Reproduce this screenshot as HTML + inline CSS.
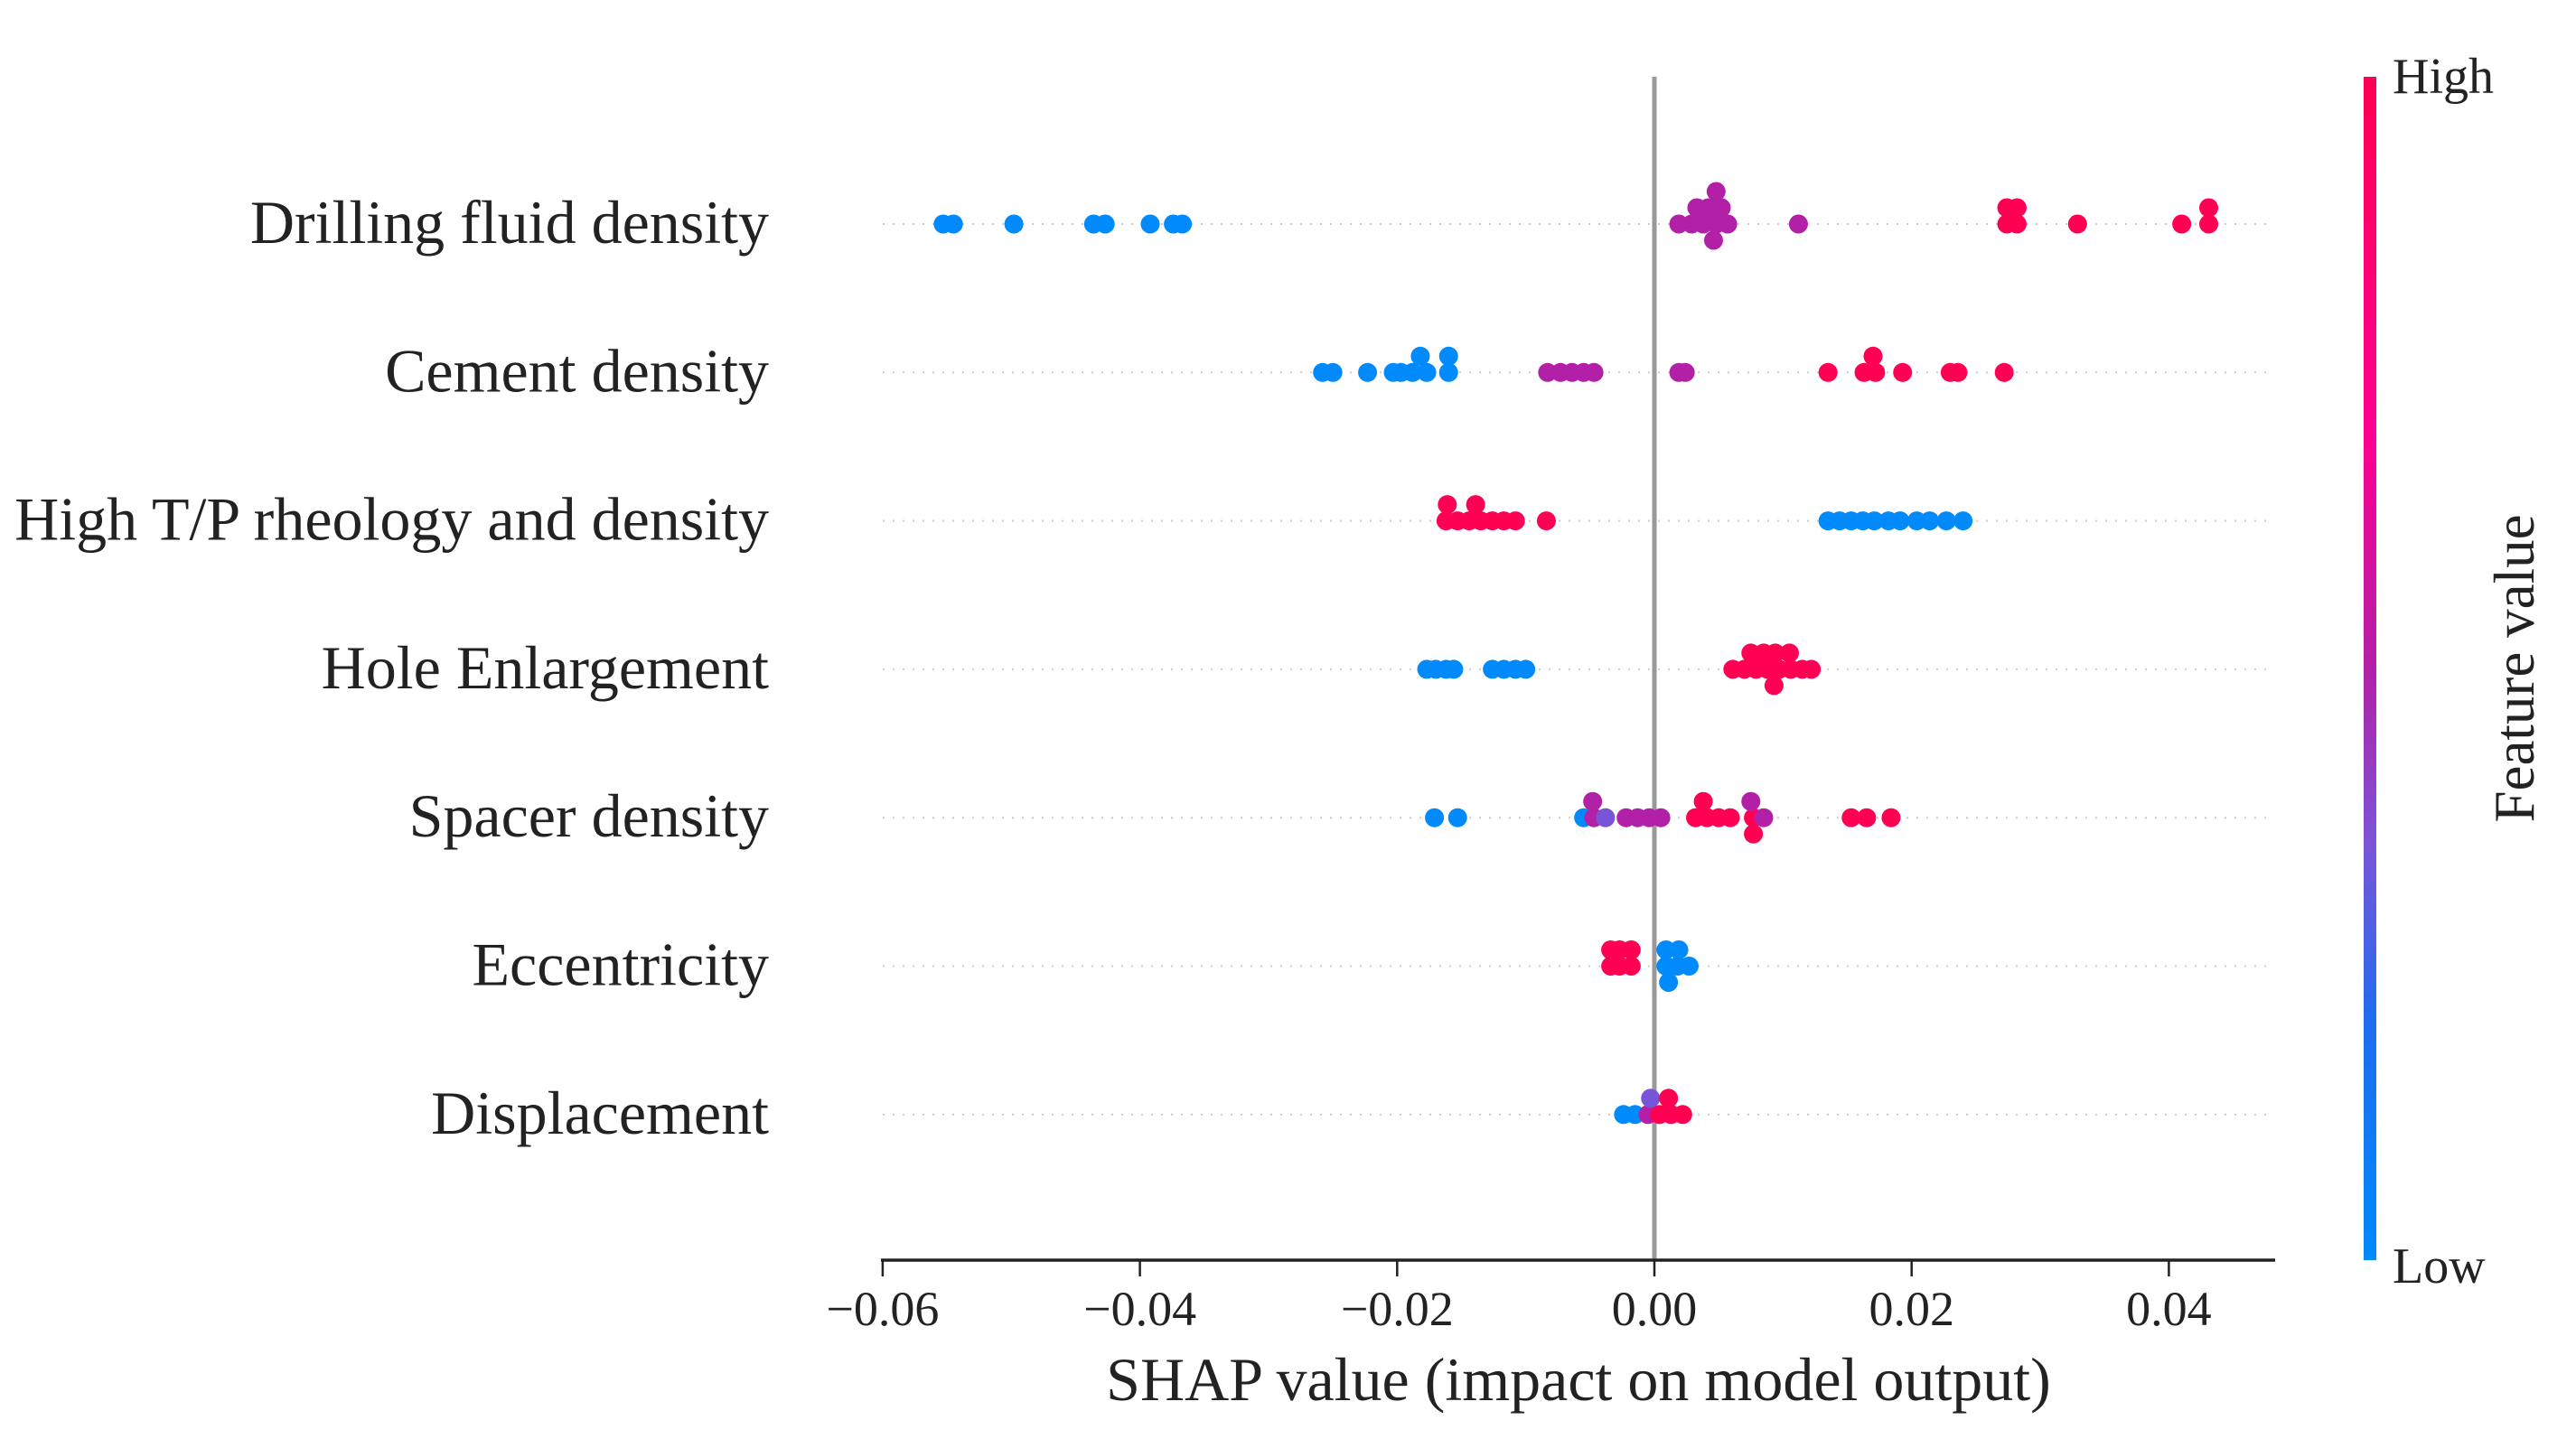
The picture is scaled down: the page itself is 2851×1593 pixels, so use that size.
<!DOCTYPE html>
<html><head><meta charset="utf-8"><style>
html,body{margin:0;padding:0;background:#fff}
svg{display:block}
text{font-family:"Liberation Serif",serif;fill:#222}
</style></head><body>
<svg id="chart" width="2851" height="1593" viewBox="0 0 2851 1593" xmlns="http://www.w3.org/2000/svg">
<defs>
<linearGradient id="cbg" x1="0" y1="1" x2="0" y2="0">
<stop offset="0" stop-color="#008afb"/><stop offset="0.2" stop-color="#1e6cf0"/>
<stop offset="0.35" stop-color="#7a55d8"/><stop offset="0.5" stop-color="#b320a8"/>
<stop offset="0.7" stop-color="#ff0090"/><stop offset="1" stop-color="#ff0052"/>
</linearGradient>
</defs>
<g id="grid"></g>
<line x1="1831" y1="85" x2="1831" y2="1395" stroke="#999" stroke-width="5"/>
<g id="dots"></g>
<g id="axis"></g>
<text x="1747" y="1550" font-size="68" text-anchor="middle">SHAP value (impact on model output)</text>
<rect x="2616" y="85" width="14" height="1310" fill="url(#cbg)"/>
<text x="2648" y="103" font-size="56">High</text>
<text x="2648" y="1420" font-size="56">Low</text>
<text x="0" y="0" font-size="63" text-anchor="middle" transform="translate(2804,740) rotate(-90)">Feature value</text>
</svg>
<script>
const features = ["Drilling fluid density","Cement density","High T/P rheology and density","Hole Enlargement","Spacer density","Eccentricity","Displacement"];
const tickValues = [-0.06,-0.04,-0.02,0.00,0.02,0.04];
const tickLabels = ["\u22120.06","\u22120.04","\u22120.02","0.00","0.02","0.04"];
// each point: [shap value, stack level, feature value 0..1]
const row0 = [[-0.0553,0,0],[-0.0545,0,0],[-0.0498,0,0],[-0.0436,0,0],[-0.0427,0,0],[-0.0392,0,0],[-0.0374,0,0],[-0.0367,0,0],
[0.0019,0,.55],[0.0029,0,.55],[0.0038,0,.55],[0.0048,0,.55],[0.0057,0,.55],[0.0033,1,.55],[0.0042,1,.55],[0.0052,1,.55],[0.0048,2,.55],[0.0046,-1,.55],[0.0112,0,.55],
[0.0274,0,1],[0.0282,0,1],[0.0274,1,1],[0.0282,1,1],[0.0329,0,1],[0.0410,0,1],[0.0431,0,1],[0.0431,1,1]];
const row1 = [[-0.0258,0,0],[-0.0250,0,0],[-0.0223,0,0],[-0.0203,0,0],[-0.0197,0,0],[-0.0188,0,0],[-0.0177,0,0],[-0.0160,0,0],[-0.0182,1,0],[-0.0160,1,0],
[-0.0083,0,.55],[-0.0073,0,.55],[-0.0064,0,.55],[-0.0055,0,.55],[-0.0047,0,.55],[0.0019,0,.55],[0.0024,0,.55],
[0.0135,0,1],[0.0163,0,1],[0.0172,0,1],[0.0193,0,1],[0.0230,0,1],[0.0236,0,1],[0.0272,0,1],[0.0170,1,1]];
const row2 = [[-0.0162,0,1],[-0.0153,0,1],[-0.0144,0,1],[-0.0135,0,1],[-0.0126,0,1],[-0.0117,0,1],[-0.0108,0,1],[-0.0084,0,1],[-0.0161,1,1],[-0.0139,1,1],
[0.0135,0,0],[0.0144,0,0],[0.0153,0,0],[0.0162,0,0],[0.0171,0,0],[0.0182,0,0],[0.0191,0,0],[0.0204,0,0],[0.0214,0,0],[0.0227,0,0],[0.0240,0,0]];
const row3 = [[-0.0177,0,0],[-0.0170,0,0],[-0.0162,0,0],[-0.0156,0,0],[-0.0126,0,0],[-0.0117,0,0],[-0.0108,0,0],[-0.0100,0,0],
[0.0061,0,1],[0.0070,0,1],[0.0079,0,1],[0.0088,0,1],[0.0097,0,1],[0.0106,0,1],[0.0115,0,1],[0.0122,0,1],[0.0075,1,1],[0.0085,1,1],[0.0094,1,1],[0.0105,1,1],[0.0093,-1,1]];
const row4 = [[-0.0171,0,0],[-0.0153,0,0],[-0.0055,0,0],[-0.0047,0,.55],[-0.0038,0,.3],[-0.0022,0,.55],[-0.0013,0,.55],[-0.0004,0,.55],[0.0005,0,.55],[-0.0048,1,.55],
[0.0032,0,1],[0.0041,0,1],[0.0050,0,1],[0.0059,0,1],[0.0077,0,1],[0.0085,0,.55],[0.0038,1,1],[0.0075,1,.55],[0.0077,-1,1],[0.0153,0,1],[0.0165,0,1],[0.0184,0,1]];
const row5 = [[-0.0034,0,1],[-0.0027,0,1],[-0.0018,0,1],[-0.0034,1,1],[-0.0027,1,1],[-0.0018,1,1],
[0.0009,0,0],[0.0018,0,0],[0.0027,0,0],[0.0009,1,0],[0.0019,1,0],[0.0011,-1,0]];
const row6 = [[-0.0024,0,0],[-0.0015,0,0],[-0.0005,0,.55],[0.0004,0,1],[0.0013,0,1],[0.0022,0,1],[-0.0003,1,.3],[0.0011,1,1]];
const rows = [row0,row1,row2,row3,row4,row5,row6];

const NS="http://www.w3.org/2000/svg";
const X0=1831, XS=14235, AX_Y=1395, ROW0=248, ROWSTEP=164.3, LEVEL=18;
function xScale(v){return X0+v*XS;}
function yRow(i){return ROW0+i*ROWSTEP;}
function color(f){
  const stops=[[0,[0,138,251]],[0.3,[120,85,216]],[0.55,[178,32,168]],[0.8,[255,0,130]],[1,[255,0,82]]];
  for(let i=1;i<stops.length;i++){if(f<=stops[i][0]){const a=stops[i-1],b=stops[i];const t=(f-a[0])/(b[0]-a[0]);
    const c=a[1].map((v,k)=>Math.round(v+(b[1][k]-v)*t));return `rgb(${c[0]},${c[1]},${c[2]})`;}}
  return "rgb(255,0,82)";
}
const svg=document.getElementById('chart');
const grid=document.getElementById('grid'), dots=document.getElementById('dots'), axis=document.getElementById('axis');
features.forEach((name,i)=>{
  const y=yRow(i);
  const gl=document.createElementNS(NS,'line');
  
  
  gl.setAttribute('x1',977);gl.setAttribute('x2',2510);gl.setAttribute('y1',y);gl.setAttribute('y2',y);
  gl.setAttribute('stroke','#ccc');gl.setAttribute('stroke-width','2');gl.setAttribute('stroke-dasharray','2 9');
  grid.appendChild(gl);
  const t=document.createElementNS(NS,'text');
  
  
  t.setAttribute('x',851);t.setAttribute('y',y+21);t.setAttribute('font-size','68');t.setAttribute('text-anchor','end');
  t.textContent=name;svg.appendChild(t);
  rows[i].forEach(p=>{
    const c=document.createElementNS(NS,'circle');
    
    
    c.setAttribute('cx',xScale(p[0]));c.setAttribute('cy',y-p[1]*LEVEL);c.setAttribute('r',10.5);
    c.setAttribute('fill',color(p[2]));
    dots.appendChild(c);
  });
});
const al=document.createElementNS(NS,'line');


al.setAttribute('x1',975);al.setAttribute('x2',2518);al.setAttribute('y1',AX_Y);al.setAttribute('y2',AX_Y);
al.setAttribute('stroke','#222');al.setAttribute('stroke-width','3.5');axis.appendChild(al);
tickValues.forEach((v,i)=>{
  const x=xScale(v);
  const tk=document.createElementNS(NS,'line');
  
  
  tk.setAttribute('x1',x);tk.setAttribute('x2',x);tk.setAttribute('y1',AX_Y);tk.setAttribute('y2',AX_Y+18);
  tk.setAttribute('stroke','#222');tk.setAttribute('stroke-width','2.5');axis.appendChild(tk);
  const lb=document.createElementNS(NS,'text');
  
  
  lb.setAttribute('x',x);lb.setAttribute('y',AX_Y+72);lb.setAttribute('font-size','54');lb.setAttribute('text-anchor','middle');
  lb.textContent=tickLabels[i];axis.appendChild(lb);
});
</script>
</body></html>
